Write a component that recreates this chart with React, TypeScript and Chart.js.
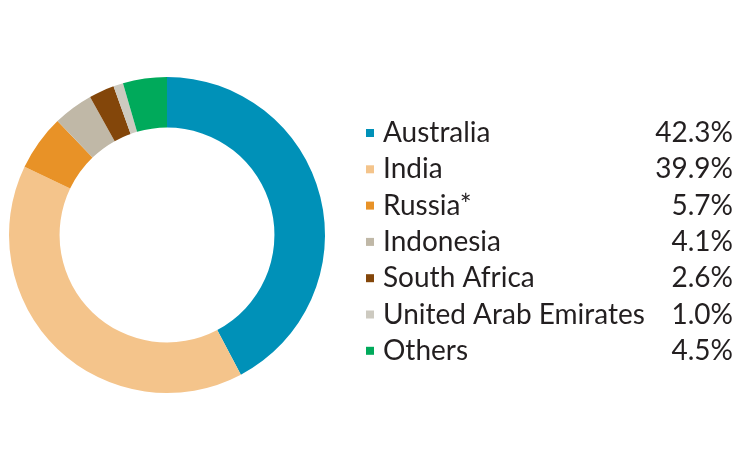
import React, { useEffect, useRef } from "react";
import { Chart, registerables } from "chart.js";

Chart.register(...registerables);

const categories = ["Australia", "India", "Russia*", "Indonesia", "South Africa", "United Arab Emirates", "Others"];
const shares = [42.3, 39.9, 5.7, 4.1, 2.6, 1.0, 4.5];
const shareLabels = ["42.3%", "39.9%", "5.7%", "4.1%", "2.6%", "1.0%", "4.5%"];
const colors = ["#0091b8", "#f4c48b", "#e89227", "#c0b8a7", "#83460a", "#cdcac0", "#00aa5b"];

const FONT = "Lato, 'Open Sans', sans-serif";

const legendPlugin = {
  id: "rightLegend",
  afterDraw(chart: any) {
    const ctx = chart.ctx as CanvasRenderingContext2D;
    ctx.save();
    const top = 133;
    const step = 36.3;
    ctx.font = `28px ${FONT}`;
    ctx.textBaseline = "middle";
    categories.forEach((c, i) => {
      const y = top + i * step;
      ctx.fillStyle = colors[i];
      ctx.fillRect(366, y - 4, 8, 8);
      ctx.fillStyle = "#231f20";
      ctx.textAlign = "left";
      ctx.fillText(c, 383, y);
      ctx.textAlign = "right";
      ctx.fillText(shareLabels[i], 733, y);
    });
    ctx.restore();
  },
};

export default function App() {
  const ref = useRef<HTMLCanvasElement>(null);
  useEffect(() => {
    document.body.style.margin = "0";
    const chart = new Chart(ref.current!, {
      type: "doughnut",
      data: {
        labels: categories,
        datasets: [
          {
            data: shares,
            backgroundColor: colors,
            borderWidth: 0,
          },
        ],
      },
      options: {
        animation: false,
        responsive: false,
        cutout: "68%",
        layout: { padding: { left: 9, right: 415, top: 77, bottom: 78 } },
        plugins: { legend: { display: false }, tooltip: { enabled: false } },
      },
      plugins: [legendPlugin],
    });
    return () => chart.destroy();
  }, []);
  return (
    <div style={{ position: "absolute", left: 0, top: 0, width: 740, height: 471, background: "#fff" }}>
      <canvas ref={ref} width={740} height={471} style={{ width: 740, height: 471, display: "block" }} />
    </div>
  );
}
